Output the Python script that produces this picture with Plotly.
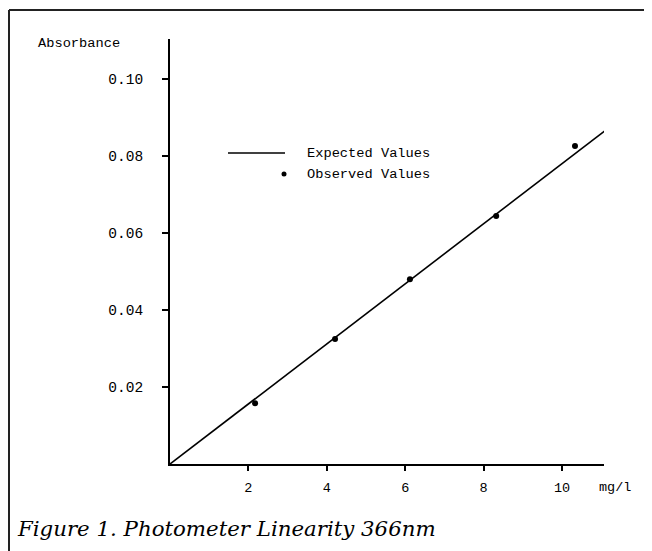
import plotly.graph_objects as go

# ---------------------------------------------------
# Data
# ---------------------------------------------------

EXPECTED_X = [0, 11.1]
EXPECTED_Y = [0, 0.0866]

OBSERVED_X = [2.17, 4.21, 6.12, 8.32, 10.33]
OBSERVED_Y = [0.0158, 0.0325, 0.048, 0.0644, 0.0826]

X_TICKS = [2, 4, 6, 8, 10]
Y_TICKS = [0.02, 0.04, 0.06, 0.08, 0.10]
Y_TICK_TEXT = ["0.02", "0.04", "0.06", "0.08", "0.10"]

MONO = "Liberation Mono, Courier New, monospace"
SERIF = "DejaVu Serif, Liberation Serif, serif"
INK = "#000000"

# the page body has an 8px margin, so the figure is shrunk and shifted
OFF = 8
W, H = 652 - OFF, 551 - OFF

# plot area, in page pixels
AX_L, AX_R, AX_T, AX_B = 170, 604, 39, 464
L, R, T, B = AX_L - OFF, 652 - AX_R, AX_T - OFF, 551 - AX_B
PW, PH = AX_R - AX_L, AX_B - AX_T


def px_x(px):
    return (px - AX_L) / PW


def px_y(py):
    return (AX_B - py) / PH


fig = go.Figure()

fig.add_trace(
    go.Scatter(
        x=EXPECTED_X,
        y=EXPECTED_Y,
        mode="lines",
        line={"color": INK, "width": 1.6},
        name="Expected Values",
        showlegend=False,
    )
)
fig.add_trace(
    go.Scatter(
        x=OBSERVED_X,
        y=OBSERVED_Y,
        mode="markers",
        marker={"color": INK, "size": 6},
        name="Observed Values",
        showlegend=False,
    )
)

# hand-drawn style legend
fig.add_shape(
    type="line", xref="paper", yref="paper",
    x0=px_x(228), x1=px_x(285), y0=px_y(153), y1=px_y(153),
    line={"color": INK, "width": 1.4},
)
fig.add_shape(
    type="circle", xref="paper", yref="paper",
    x0=px_x(281.5), x1=px_x(286.5), y0=px_y(171.5), y1=px_y(176.5),
    fillcolor=INK, line={"color": INK, "width": 0},
)
for label, py in [("Expected Values", 153), ("Observed Values", 174)]:
    fig.add_annotation(
        text=label, xref="paper", yref="paper", x=px_x(305), y=px_y(py),
        xanchor="left", yanchor="middle", showarrow=False,
        font={"family": MONO, "size": 13.7, "color": INK},
    )

# axis captions
fig.add_annotation(
    text="Absorbance", xref="paper", yref="paper", x=px_x(36), y=px_y(44),
    xanchor="left", yanchor="middle", showarrow=False,
    font={"family": MONO, "size": 13.7, "color": INK},
)
fig.add_annotation(
    text="mg/l", xref="paper", yref="paper", x=px_x(597), y=px_y(487),
    xanchor="left", yanchor="middle", showarrow=False,
    font={"family": MONO, "size": 13.5, "color": INK},
)

# figure caption
fig.add_annotation(
    text="<i>Figure 1. Photometer Linearity 366nm</i>",
    xref="paper", yref="paper", x=px_x(15), y=px_y(528),
    xanchor="left", yanchor="middle", showarrow=False,
    font={"family": SERIF, "size": 21.3, "color": INK},
)

# page frame (top and left edges only)
fig.add_shape(
    type="line", xref="paper", yref="paper",
    x0=px_x(OFF + 1), x1=px_x(652), y0=px_y(10), y1=px_y(10),
    line={"color": "#222222", "width": 2},
)
fig.add_shape(
    type="line", xref="paper", yref="paper",
    x0=px_x(OFF + 1), x1=px_x(OFF + 1), y0=px_y(10), y1=px_y(551),
    line={"color": "#222222", "width": 2},
)

fig.update_xaxes(
    range=[0, 11.07],
    tickvals=X_TICKS,
    ticks="outside", ticklen=5, tickwidth=1.5, tickcolor=INK,
    ticklabelstandoff=5,
    showline=True, linecolor=INK, linewidth=2,
    showgrid=False, zeroline=False,
    tickfont={"family": MONO, "size": 13.5, "color": INK},
)
fig.update_yaxes(
    range=[0, 0.1104],
    tickvals=Y_TICKS,
    ticktext=Y_TICK_TEXT,
    ticks="outside", ticklen=6, tickwidth=1.5, tickcolor=INK,
    ticklabelstandoff=16,
    showline=True, linecolor=INK, linewidth=2,
    showgrid=False, zeroline=False,
    tickfont={"family": MONO, "size": 14.5, "color": INK},
)

fig.update_layout(
    width=W,
    height=H,
    paper_bgcolor="white",
    plot_bgcolor="white",
    margin={"l": L, "r": R, "t": T, "b": B},
    showlegend=False,
)

fig.write_html("out.html")
